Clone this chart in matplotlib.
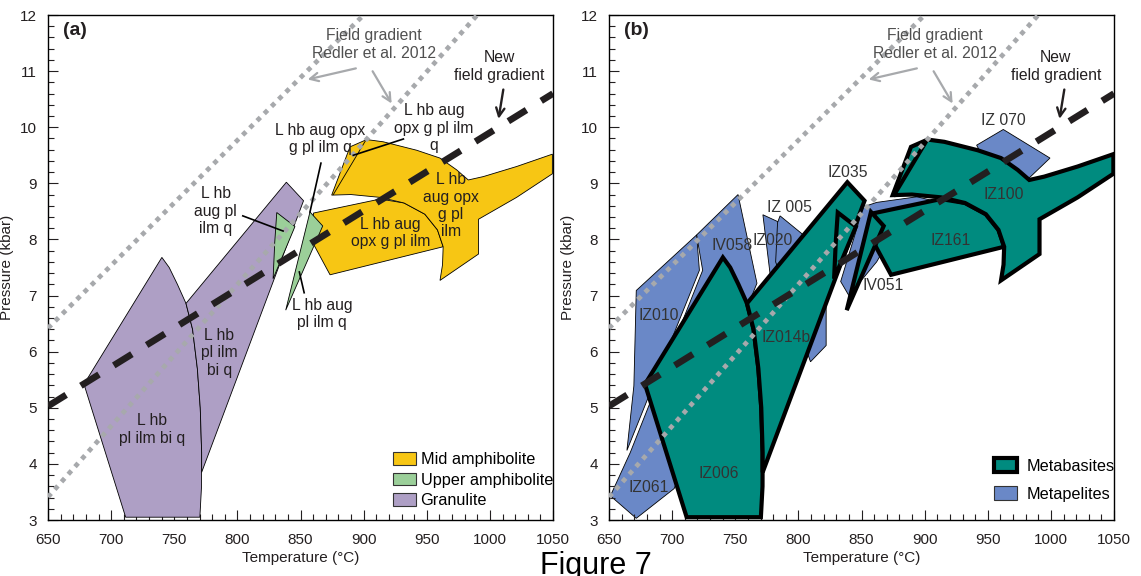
import numpy as np
import matplotlib.pyplot as plt
from matplotlib.patches import Patch

plt.rcParams['font.family'] = ['Liberation Sans', 'DejaVu Sans']

# field gradients (T in deg C, P in kbar)
new_grad_T = [650, 1050]
new_grad_P = [5.03, 10.6]
redler1_T = [650, 900]
redler1_P = [6.42, 12.0]
redler2_T = [650, 990]
redler2_P = [3.41, 12.0]

# modelled phase fields (shared by both panels)
gran1_T = [678.5, 740.2, 746.0, 752.5, 759.3, 764.5, 768.3, 770.6, 771.7, 771.6, 770.3, 711.5]
gran1_P = [5.42, 7.68, 7.50, 7.20, 6.86, 6.40, 5.70, 5.00, 4.20, 3.60, 3.05, 3.05]
gran2_T = [759.3, 838.8, 852.4, 771.7, 771.7, 770.6, 768.3, 764.5]
gran2_P = [6.86, 9.02, 8.69, 3.85, 4.20, 5.00, 5.70, 6.40]
upper1_T = [831.2, 845.6, 828.3, 829.6]
upper1_P = [8.48, 8.23, 7.30, 7.95]
upper2_T = [857.5, 867.6, 838.3]
upper2_P = [8.49, 8.24, 6.74]
mid1_T = [860.2, 860.7, 873.4, 963.0, 958.5, 948.5, 932.0, 913.0]
mid1_P = [8.47, 7.90, 7.37, 7.87, 8.17, 8.45, 8.65, 8.72]
mid2_T = [874.7, 889.2, 902.4, 915.6, 942.0, 960.5, 973.7, 982.9, 994.8, 1021.2, 1049.5,
          1049.5, 1021.2, 991.0, 991.0, 960.5, 962.5, 963.0, 958.5, 948.5, 932.0, 913.0, 890.0]
mid2_P = [8.79, 9.65, 9.78, 9.74, 9.59, 9.45, 9.24, 9.06, 9.12, 9.30, 9.52,
          9.17, 8.75, 8.36, 7.74, 7.27, 7.55, 7.87, 8.17, 8.45, 8.65, 8.75, 8.80]
sliver_T = [876.0, 901.5]
sliver_P = [8.80, 9.76]

# metapelite samples (panel b)
iz010_T = [671.6, 719.4, 721.6, 664.2, 669.7]
iz010_P = [7.09, 8.08, 7.45, 4.24, 5.39]
iv058_T = [719.4, 752.2, 767.2, 701.6, 671.6, 651.1, 666.8, 724.2]
iv058_P = [8.08, 8.80, 7.22, 3.56, 3.03, 3.43, 4.20, 7.45]
iz005_T = [771.9, 795.0, 785.0, 777.5]
iz005_P = [8.44, 8.20, 7.30, 7.40]
iz020_T = [785.5, 804.0, 822.0, 822.0, 809.6, 782.0, 783.5]
iz020_P = [8.42, 8.08, 6.90, 6.11, 5.82, 7.60, 8.30]
iz070_T = [941.2, 962.3, 999.3, 983.0, 950.0]
iz070_P = [9.68, 9.96, 9.45, 9.10, 9.30]
iv051_T = [851.3, 862.0, 894.0, 905.0, 880.0, 862.0, 840.0, 833.5, 845.0]
iv051_P = [8.58, 8.66, 8.76, 8.70, 8.30, 7.60, 7.00, 7.25, 8.10]

sample_names = ['IZ 070', 'IZ035', 'IZ 005', 'IZ020', 'IV058', 'IZ010', 'IZ014b',
                'IZ006', 'IZ061', 'IV051', 'IZ161', 'IZ100']
sample_T = [962.0, 839.1, 793.2, 779.5, 747.5, 689.3, 790.4, 736.6, 681.1, 867.5, 920.2, 962.6]
sample_P = [10.12, 9.19, 8.57, 7.98, 7.89, 6.64, 6.26, 3.83, 3.58, 7.18, 7.98, 8.80]

c_mid, c_upper, c_gran = '#f7c614', '#9bcf99', '#ae9fc5'
c_basite, c_pelite = '#008b7f', '#6a88c7'
ink = '#231f20'

fig = plt.figure(figsize=(11.41, 5.76), dpi=100)
axa = fig.add_axes([48/1141, 56/576, 505/1141, 505/576])
axb = fig.add_axes([609/1141, 56/576, 505/1141, 505/576])


def setup(ax, tag):
    ax.set_xlim(650, 1050)
    ax.set_ylim(3, 12)
    ax.set_xticks(np.arange(650, 1051, 50))
    ax.set_xticks(np.arange(650, 1051, 10), minor=True)
    ax.set_yticks(np.arange(3, 13, 1))
    ax.set_yticks(np.arange(3, 12.01, 0.2), minor=True)
    ax.tick_params(which='both', direction='in', top=False, right=False,
                   labelsize=11, width=0.8, colors=ink)
    ax.tick_params(which='major', length=7)
    ax.tick_params(which='minor', length=4)
    ax.tick_params(axis='x', pad=9)
    ax.tick_params(axis='y', pad=8)
    for s in ax.spines.values():
        s.set_linewidth(1.0)
    ax.set_xlabel('Temperature (°C)', fontsize=11, labelpad=3, color=ink)
    ax.set_ylabel('Pressure (kbar)', fontsize=11, labelpad=4, color=ink)
    ax.text(0.03, 0.97, tag, transform=ax.transAxes, fontsize=14,
            fontweight='bold', ha='left', va='center', color=ink)


def gradients(ax):
    ax.plot(redler1_T, redler1_P, color='#a7a9ac', lw=3.4, dashes=(1.0, 1.15), zorder=5)
    ax.plot(redler2_T, redler2_P, color='#a7a9ac', lw=3.4, dashes=(1.0, 1.15), zorder=5)
    ax.plot(new_grad_T, new_grad_P, color=ink, lw=4.8, dashes=(3.2, 2.6), zorder=6)
    ax.text(908, 11.48, 'Field gradient\nRedler et al. 2012', fontsize=11.3,
            ha='center', va='center', color='#505050', linespacing=1.25, zorder=7)
    ap = dict(arrowstyle='->,head_length=0.6,head_width=0.3', color='#a7a9ac', lw=1.6)
    ax.annotate('', xy=(853.5, 10.84), xytext=(896, 11.06), arrowprops=ap, zorder=7)
    ax.annotate('', xy=(923.3, 10.38), xytext=(906, 11.04), arrowprops=ap, zorder=7)
    ax.annotate('', xy=(1006.5, 10.10), xytext=(1011, 10.72),
                arrowprops=dict(arrowstyle='->,head_length=0.6,head_width=0.3',
                                color=ink, lw=1.7), zorder=7)


def poly(ax, T, P, fc, lw, z):
    ax.fill(T, P, facecolor=fc, edgecolor='black', lw=lw, joinstyle='miter', zorder=z)


# ---- panel (a)
setup(axa, '(a)')
for T, P in [(gran1_T, gran1_P), (gran2_T, gran2_P)]:
    poly(axa, T, P, c_gran, 0.6, 2)
for T, P in [(mid1_T, mid1_P), (mid2_T, mid2_P)]:
    poly(axa, T, P, c_mid, 0.6, 2)
axa.plot(sliver_T, sliver_P, color='black', lw=0.6, zorder=2)
for T, P in [(upper1_T, upper1_P), (upper2_T, upper2_P)]:
    poly(axa, T, P, c_upper, 0.6, 3)
gradients(axa)
axa.text(1007.5, 11.08, 'New\nfield gradient', fontsize=11.3, ha='center', va='center',
         color=ink, linespacing=1.25, zorder=7)

lab = dict(fontsize=11.3, ha='center', va='center', color=ink, linespacing=1.2, zorder=8)
axa.text(865.9, 9.79, 'L hb aug opx\ng pl ilm q', **lab)
axa.text(955.7, 9.98, 'L hb aug\nopx g pl ilm\nq', **lab)
axa.text(782.9, 8.50, 'L hb\naug pl\nilm q', **lab)
axa.text(867.3, 6.67, 'L hb aug\npl ilm q', **lab)
axa.text(921.4, 8.12, 'L hb aug\nopx g pl ilm', **lab)
axa.text(969.1, 8.60, 'L hb\naug opx\ng pl\nilm', **lab)
axa.text(785.6, 5.98, 'L hb\npl ilm\nbi q', **lab)
axa.text(732.1, 4.61, 'L hb\npl ilm bi q', **lab)
for (t0, p0), (t1, p1) in [((866.2, 9.36), (857.5, 8.49)),
                           ((931.5, 9.79), (891.8, 9.50)),
                           ((804.3, 8.42), (836.2, 8.15)),
                           ((849.1, 7.42), (852.9, 7.05))]:
    axa.plot([t0, t1], [p0, p1], color='black', lw=1.2, zorder=8)

axa.legend(handles=[Patch(facecolor=c_mid, edgecolor='#333333', lw=0.8, label='Mid amphibolite'),
                    Patch(facecolor=c_upper, edgecolor='#333333', lw=0.8, label='Upper amphibolite'),
                    Patch(facecolor=c_gran, edgecolor='#333333', lw=0.8, label='Granulite')],
           loc='lower left', bbox_to_anchor=(0.683, 0.024), frameon=False, fontsize=11.7,
           borderpad=0, borderaxespad=0, handlelength=1.45, handleheight=0.82,
           handletextpad=0.25, labelspacing=0.33)

# ---- panel (b)
setup(axb, '(b)')
for T, P in [(iv058_T, iv058_P), (iz010_T, iz010_P), (iz005_T, iz005_P),
             (iz020_T, iz020_P), (iz070_T, iz070_P), (iv051_T, iv051_P)]:
    poly(axb, T, P, c_pelite, 0.6, 1)
for T, P in [(gran1_T, gran1_P), (gran2_T, gran2_P), (mid1_T, mid1_P), (mid2_T, mid2_P),
             (upper1_T, upper1_P), (upper2_T, upper2_P)]:
    poly(axb, T, P, c_basite, 3.0, 2)
axb.plot(sliver_T, sliver_P, color='black', lw=3.0, zorder=2)
gradients(axb)
axb.text(1004, 11.08, 'New\nfield gradient', fontsize=11.3, ha='center', va='center',
         color=ink, linespacing=1.25, zorder=7)

for name, t, p in zip(sample_names, sample_T, sample_P):
    axb.text(t, p, name, fontsize=11.3, ha='center', va='center', color='#333333', zorder=8)

axb.legend(handles=[Patch(facecolor=c_basite, edgecolor='black', lw=3.0, label='Metabasites'),
                    Patch(facecolor=c_pelite, edgecolor='#333333', lw=0.8, label='Metapelites')],
           loc='lower left', bbox_to_anchor=(0.762, 0.036), frameon=False, fontsize=11.7,
           borderpad=0, borderaxespad=0, handlelength=1.45, handleheight=0.9,
           handletextpad=0.55, labelspacing=0.78)

fig.text(0.5225, 0.0434, 'Figure 7', fontsize=22, ha='center', va='top', color='black')

fig.savefig('out.png', dpi=100)
